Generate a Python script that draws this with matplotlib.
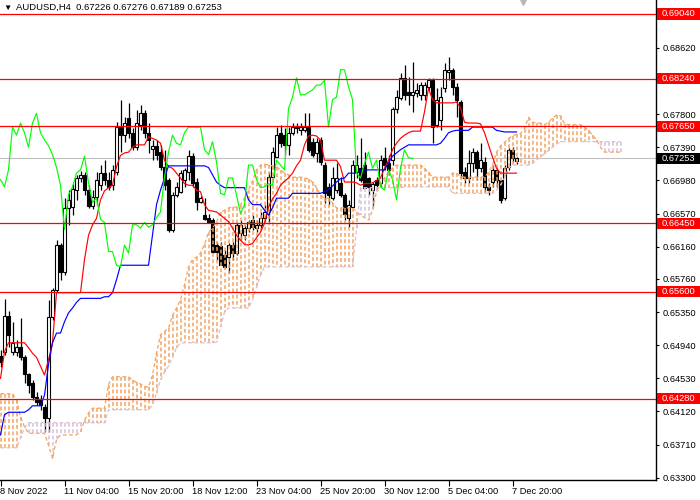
"""AUDUSD H4 chart in the MetaTrader look: candles, Ichimoku cloud and level lines."""

import matplotlib

matplotlib.use("Agg")
import matplotlib.pyplot as plt
from matplotlib.patches import Rectangle
from matplotlib.transforms import blended_transform_factory

SYMBOL_TITLE = "AUDUSD,H4  0.67226 0.67276 0.67189 0.67253"

# one entry per H4 bar, first bar = 8 Nov 2022 12:00
opens = [
    0.6481, 0.6486, 0.6530, 0.6486, 0.6486, 0.6492, 0.6479, 0.6458, 0.6447, 0.6430,
    0.6427, 0.6418, 0.6404, 0.6529, 0.6562, 0.6618, 0.6585, 0.6664, 0.6665, 0.6686,
    0.6701, 0.6705, 0.6686, 0.6666, 0.6677, 0.6692, 0.6707, 0.6699, 0.6692, 0.6708,
    0.6764, 0.6754, 0.6775, 0.6757, 0.6739, 0.6767, 0.6781, 0.6757, 0.6737, 0.6741,
    0.6733, 0.6714, 0.6699, 0.6637, 0.6680, 0.6684, 0.6699, 0.6708, 0.6728, 0.6696,
    0.6671, 0.6655, 0.6652, 0.6649, 0.6618, 0.6617, 0.6606, 0.6603, 0.6618, 0.6608,
    0.6633, 0.6630, 0.6639, 0.6649, 0.6639, 0.6643, 0.6651, 0.6661, 0.6702, 0.6727,
    0.6757, 0.6754, 0.6742, 0.6757, 0.6763, 0.6760, 0.6760, 0.6764, 0.6746, 0.6732,
    0.6748, 0.6717, 0.6690, 0.6676, 0.6686, 0.6695, 0.6680, 0.6652, 0.6665, 0.6708,
    0.6713, 0.6717, 0.6701, 0.6686, 0.6699, 0.6695, 0.6726, 0.6719, 0.6723, 0.6787,
    0.6800, 0.6825, 0.6807, 0.6804, 0.6806, 0.6804, 0.6804, 0.6814, 0.6822, 0.6767,
    0.6773, 0.6812, 0.6832, 0.6835, 0.6814, 0.6795, 0.6708, 0.6701, 0.6719, 0.6733,
    0.6713, 0.6721, 0.6690, 0.6696, 0.6711, 0.6699, 0.6676, 0.6715, 0.6736, 0.67226,
]
highs = [
    0.6488, 0.6551, 0.6536, 0.6523, 0.6500, 0.6528, 0.6482, 0.6460, 0.6451, 0.6436,
    0.6432, 0.6421, 0.6550, 0.6565, 0.6624, 0.6620, 0.6676, 0.6686, 0.6694, 0.6705,
    0.6710, 0.6708, 0.6692, 0.6686, 0.6708, 0.6717, 0.6723, 0.6708, 0.6717, 0.6770,
    0.6798, 0.6776, 0.6794, 0.6763, 0.6785, 0.6791, 0.6785, 0.6769, 0.6748, 0.6748,
    0.6742, 0.6736, 0.6701, 0.6684, 0.6696, 0.6711, 0.6713, 0.6736, 0.6732, 0.6701,
    0.6679, 0.6676, 0.6657, 0.6652, 0.6622, 0.6622, 0.6612, 0.6620, 0.6622, 0.6645,
    0.6649, 0.6643, 0.6649, 0.6655, 0.6649, 0.6659, 0.6668, 0.6708, 0.6739, 0.6764,
    0.6767, 0.6763, 0.6764, 0.6769, 0.6769, 0.6769, 0.6781, 0.6781, 0.6750, 0.6750,
    0.6752, 0.6721, 0.6695, 0.6715, 0.6719, 0.6702, 0.6682, 0.6674, 0.6723, 0.6730,
    0.6750, 0.6733, 0.6702, 0.6696, 0.6702, 0.6730, 0.6739, 0.6730, 0.6789, 0.6810,
    0.6831, 0.6841, 0.6826, 0.6845, 0.6819, 0.6820, 0.6820, 0.6825, 0.6825, 0.6812,
    0.6814, 0.6843, 0.6851, 0.6837, 0.6819, 0.6798, 0.6715, 0.6736, 0.6738, 0.6736,
    0.6744, 0.6727, 0.6695, 0.6717, 0.6713, 0.6699, 0.6717, 0.6738, 0.6739, 0.67276,
]
lows = [
    0.6467, 0.6482, 0.6492, 0.6482, 0.6481, 0.6476, 0.6447, 0.6435, 0.6426, 0.6420,
    0.6414, 0.6386, 0.6386, 0.6525, 0.6560, 0.6575, 0.6581, 0.6643, 0.6655, 0.6674,
    0.6696, 0.6680, 0.6664, 0.6662, 0.6668, 0.6686, 0.6692, 0.6686, 0.6686, 0.6705,
    0.6733, 0.6746, 0.6751, 0.6736, 0.6736, 0.6760, 0.6751, 0.6732, 0.6723, 0.6723,
    0.6711, 0.6686, 0.6634, 0.6634, 0.6677, 0.6682, 0.6690, 0.6699, 0.6690, 0.6661,
    0.6670, 0.6649, 0.6645, 0.6608, 0.6600, 0.6593, 0.6590, 0.6584, 0.6600, 0.6606,
    0.6624, 0.6624, 0.6634, 0.6637, 0.6634, 0.6639, 0.6646, 0.6645, 0.6701, 0.6727,
    0.6739, 0.6730, 0.6730, 0.6754, 0.6757, 0.6754, 0.6758, 0.6733, 0.6727, 0.6721,
    0.6717, 0.6670, 0.6668, 0.6674, 0.6682, 0.6677, 0.6649, 0.6640, 0.6664, 0.6701,
    0.6696, 0.6689, 0.6680, 0.6665, 0.6686, 0.6690, 0.6711, 0.6705, 0.6717, 0.6781,
    0.6798, 0.6798, 0.6791, 0.6783, 0.6801, 0.6798, 0.6798, 0.6810, 0.6744, 0.6764,
    0.6760, 0.6807, 0.6822, 0.6804, 0.6776, 0.6701, 0.6695, 0.6695, 0.6708, 0.6699,
    0.6708, 0.6684, 0.6680, 0.6690, 0.6690, 0.6670, 0.6674, 0.6711, 0.6721, 0.67189,
]
closes = [
    0.6473, 0.6530, 0.6507, 0.6497, 0.6492, 0.6479, 0.6458, 0.6445, 0.6430, 0.6424,
    0.6420, 0.6404, 0.6529, 0.6562, 0.6618, 0.6585, 0.6664, 0.6674, 0.6687, 0.6701,
    0.6705, 0.6686, 0.6666, 0.6677, 0.6699, 0.6707, 0.6699, 0.6690, 0.6711, 0.6764,
    0.6754, 0.6769, 0.6757, 0.6739, 0.6769, 0.6781, 0.6757, 0.6748, 0.6741, 0.6730,
    0.6714, 0.6692, 0.6637, 0.6680, 0.6690, 0.6707, 0.6711, 0.6728, 0.6695, 0.6671,
    0.6676, 0.6650, 0.6646, 0.6610, 0.6610, 0.6593, 0.6591, 0.6618, 0.6608, 0.6643,
    0.6643, 0.6639, 0.6646, 0.6640, 0.6643, 0.6652, 0.6659, 0.6702, 0.6733, 0.6754,
    0.6744, 0.6742, 0.6757, 0.6764, 0.6764, 0.6764, 0.6764, 0.6736, 0.6730, 0.6746,
    0.6721, 0.6682, 0.6680, 0.6701, 0.6701, 0.6680, 0.6657, 0.6668, 0.6717, 0.6717,
    0.6699, 0.6689, 0.6690, 0.6694, 0.6692, 0.6723, 0.6717, 0.6711, 0.6787, 0.6801,
    0.6825, 0.6804, 0.6804, 0.6807, 0.6810, 0.6816, 0.6816, 0.6822, 0.6764, 0.6798,
    0.6801, 0.6835, 0.6835, 0.6814, 0.6798, 0.6707, 0.6701, 0.6719, 0.6733, 0.6713,
    0.6723, 0.6690, 0.6686, 0.6711, 0.6699, 0.6674, 0.6713, 0.6736, 0.6726, 0.67253,
]

# Ichimoku lines as shown on the chart
tenkan = [
    0.6453, 0.6486, 0.6497, 0.6497, 0.6497, 0.6497, 0.6497, 0.6491, 0.6484, 0.6479,
    0.6468, 0.6457, 0.6476, 0.6497, 0.6559, 0.6559, 0.6559, 0.6559, 0.6559, 0.6559,
    0.6559, 0.6600, 0.6630, 0.6643, 0.6651, 0.6674, 0.6685, 0.6689, 0.6692, 0.6715,
    0.6729, 0.6732, 0.6733, 0.6739, 0.6742, 0.6742, 0.6742, 0.6752, 0.6750, 0.6748,
    0.6744, 0.6723, 0.6715, 0.6713, 0.6707, 0.6701, 0.6694, 0.6692, 0.6692, 0.6686,
    0.6684, 0.6668, 0.6661, 0.6660, 0.6659, 0.6655, 0.6651, 0.6647, 0.6639, 0.6630,
    0.6624, 0.6619, 0.6618, 0.6620, 0.6627, 0.6634, 0.6645, 0.6665, 0.6675, 0.6682,
    0.6692, 0.6697, 0.6701, 0.6707, 0.6716, 0.6723, 0.6742, 0.6753, 0.6754, 0.6753,
    0.6748, 0.6723, 0.6723, 0.6723, 0.6723, 0.6715, 0.6696, 0.6696, 0.6696, 0.6695,
    0.6692, 0.6694, 0.6694, 0.6695, 0.6698, 0.6701, 0.6713, 0.6723, 0.6736, 0.6744,
    0.6750, 0.6754, 0.6757, 0.6759, 0.6759, 0.6759, 0.6783, 0.6812, 0.6798, 0.6794,
    0.6794, 0.6794, 0.6794, 0.6794, 0.6795, 0.6788, 0.6770, 0.6769, 0.6769, 0.6769,
    0.6768, 0.6757, 0.6742, 0.6727, 0.6713, 0.6707, 0.6707, 0.6707, 0.6707, 0.6707,
]
kijun = [
    0.6383, 0.6408, 0.6411, 0.6411, 0.6411, 0.6411, 0.6411, 0.6414, 0.6419, 0.6419,
    0.6419, 0.6432, 0.6470, 0.6497, 0.6509, 0.6509, 0.6523, 0.6534, 0.6540, 0.6547,
    0.6552, 0.6552, 0.6552, 0.6552, 0.6552, 0.6552, 0.6554, 0.6554, 0.6559, 0.6575,
    0.6593, 0.6593, 0.6593, 0.6593, 0.6593, 0.6593, 0.6593, 0.6593, 0.6630, 0.6668,
    0.6686, 0.6701, 0.6716, 0.6716, 0.6716, 0.6716, 0.6716, 0.6716, 0.6716, 0.6716,
    0.6716, 0.6716, 0.6714, 0.6705, 0.6696, 0.6692, 0.6689, 0.6689, 0.6689, 0.6689,
    0.6689, 0.6689, 0.6674, 0.6668, 0.6668, 0.6668, 0.6661, 0.6655, 0.6664, 0.6676,
    0.6676, 0.6676, 0.6676, 0.6682, 0.6682, 0.6682, 0.6682, 0.6682, 0.6682, 0.6682,
    0.6682, 0.6684, 0.6687, 0.6691, 0.6696, 0.6700, 0.6701, 0.6707, 0.6707, 0.6707,
    0.6711, 0.6711, 0.6711, 0.6711, 0.6711, 0.6711, 0.6711, 0.6720, 0.6728, 0.6732,
    0.6736, 0.6739, 0.6742, 0.6742, 0.6742, 0.6742, 0.6742, 0.6742, 0.6742, 0.6742,
    0.6744, 0.6750, 0.6757, 0.6759, 0.6760, 0.6760, 0.6760, 0.6760, 0.6764, 0.6764,
    0.6764, 0.6764, 0.6764, 0.6764, 0.6760, 0.6759, 0.6758, 0.6758, 0.6758, 0.6758,
]
# senkou spans run 26 bars past the last candle
span_a = [
    0.6434, 0.6434, 0.6434, 0.6434, 0.6426, 0.6405, 0.6393, 0.6385, 0.6385, 0.6385,
    0.6385, 0.6385, 0.6370, 0.6354, 0.6377, 0.6383, 0.6383, 0.6383, 0.6383, 0.6383,
    0.6387, 0.6401, 0.6410, 0.6416, 0.6416, 0.6416, 0.6416, 0.6445, 0.6455, 0.6455,
    0.6455, 0.6455, 0.6455, 0.6451, 0.6448, 0.6446, 0.6443, 0.6442, 0.6457, 0.6484,
    0.6507, 0.6511, 0.6515, 0.6531, 0.6540, 0.6550, 0.6569, 0.6591, 0.6600, 0.6603,
    0.6608, 0.6619, 0.6634, 0.6639, 0.6646, 0.6659, 0.6661, 0.6664, 0.6665, 0.6665,
    0.6668, 0.6676, 0.6686, 0.6697, 0.6711, 0.6717, 0.6718, 0.6717, 0.6716, 0.6715,
    0.6711, 0.6707, 0.6705, 0.6702, 0.6702, 0.6702, 0.6701, 0.6700, 0.6696, 0.6689,
    0.6680, 0.6676, 0.6676, 0.6670, 0.6664, 0.6664, 0.6664, 0.6664, 0.6664, 0.6659,
    0.6655, 0.6652, 0.6649, 0.6661, 0.6684, 0.6695, 0.6701, 0.6708, 0.6713, 0.6717,
    0.6717, 0.6717, 0.6717, 0.6717, 0.6717, 0.6717, 0.6713, 0.6708, 0.6702, 0.6702,
    0.6702, 0.6702, 0.6702, 0.6707, 0.6707, 0.6703, 0.6702, 0.6702, 0.6702, 0.6702,
    0.6702, 0.6702, 0.6708, 0.6717, 0.6733, 0.6741, 0.6745, 0.6750, 0.6753, 0.6755,
    0.6756, 0.6762, 0.6776, 0.6770, 0.6769, 0.6769, 0.6767, 0.6770, 0.6775, 0.6779,
    0.6778, 0.6768, 0.6767, 0.6767, 0.6767, 0.6767, 0.6764, 0.6760, 0.6754, 0.6748,
    0.6739, 0.6733, 0.6733, 0.6733, 0.6733, 0.6733,
]
span_b = [
    0.6367, 0.6367, 0.6367, 0.6367, 0.6367, 0.6379, 0.6392, 0.6398, 0.6398, 0.6398,
    0.6398, 0.6398, 0.6398, 0.6398, 0.6398, 0.6398, 0.6398, 0.6398, 0.6398, 0.6398,
    0.6398, 0.6398, 0.6398, 0.6398, 0.6398, 0.6398, 0.6398, 0.6414, 0.6414, 0.6414,
    0.6414, 0.6414, 0.6414, 0.6414, 0.6414, 0.6414, 0.6414, 0.6414, 0.6420, 0.6435,
    0.6451, 0.6461, 0.6468, 0.6479, 0.6491, 0.6497, 0.6497, 0.6497, 0.6497, 0.6497,
    0.6497, 0.6497, 0.6497, 0.6497, 0.6498, 0.6516, 0.6535, 0.6540, 0.6540, 0.6540,
    0.6540, 0.6540, 0.6540, 0.6550, 0.6565, 0.6581, 0.6591, 0.6591, 0.6591, 0.6591,
    0.6591, 0.6591, 0.6591, 0.6591, 0.6591, 0.6591, 0.6591, 0.6591, 0.6591, 0.6591,
    0.6591, 0.6591, 0.6591, 0.6591, 0.6591, 0.6591, 0.6591, 0.6591, 0.6591, 0.6637,
    0.6689, 0.6689, 0.6689, 0.6689, 0.6689, 0.6689, 0.6689, 0.6689, 0.6689, 0.6689,
    0.6689, 0.6690, 0.6690, 0.6690, 0.6690, 0.6690, 0.6690, 0.6690, 0.6690, 0.6690,
    0.6690, 0.6690, 0.6690, 0.6682, 0.6682, 0.6682, 0.6682, 0.6682, 0.6682, 0.6682,
    0.6682, 0.6682, 0.6682, 0.6682, 0.6686, 0.6692, 0.6701, 0.6713, 0.6717, 0.6717,
    0.6717, 0.6717, 0.6717, 0.6719, 0.6723, 0.6727, 0.6731, 0.6735, 0.6739, 0.6743,
    0.6746, 0.6746, 0.6746, 0.6746, 0.6746, 0.6746, 0.6746, 0.6746, 0.6746, 0.6746,
    0.6746, 0.6746, 0.6746, 0.6746, 0.6746, 0.6746,
]

levels = [0.69040, 0.68240, 0.67650, 0.66450, 0.65600, 0.64280]
last_price = 0.67253

price_ticks = [0.68620, 0.67800, 0.67390, 0.66980, 0.66570, 0.66160, 0.65760,
               0.65350, 0.64940, 0.64530, 0.64120, 0.63710, 0.63300]
time_tick_bars = [0, 16, 32, 48, 64, 80, 96, 112, 128]
time_tick_labels = ["8 Nov 2022", "11 Nov 04:00", "15 Nov 20:00", "18 Nov 12:00",
                    "23 Nov 04:00", "25 Nov 20:00", "30 Nov 12:00", "5 Dec 04:00",
                    "7 Dec 20:00"]

CHIKOU_SHIFT = 26
FONT_SIZE = 6.7
SPAN_A_COLOR = "#F4A460"
SPAN_B_COLOR = "#D8BFD8"
DOT = (0, (3, 2))


def draw_cloud(ax):
    # one dotted column per bar, coloured by whichever span is on top
    for i, (a, b) in enumerate(zip(span_a, span_b)):
        color = SPAN_A_COLOR if a >= b else SPAN_B_COLOR
        ax.plot([i, i], [max(a, b), min(a, b)], color=color, linestyle=(0, (2.5, 1.6)),
                linewidth=1.1, solid_capstyle="butt", dash_capstyle="butt", zorder=3)
    idx = list(range(len(span_a)))
    for vals, color in ((span_a, SPAN_A_COLOR), (span_b, SPAN_B_COLOR)):
        ax.plot(idx, vals, color=color, linestyle=DOT, linewidth=0.9, zorder=3)


def draw_candles(ax):
    idx = list(range(len(closes)))
    ax.vlines(idx, lows, highs, color="black", linewidth=0.9, zorder=2)
    bottoms = [min(o, c) for o, c in zip(opens, closes)]
    heights = [max(abs(c - o), 0.00003) for o, c in zip(opens, closes)]
    faces = ["white" if c >= o else "black" for o, c in zip(opens, closes)]
    ax.bar(idx, heights, bottom=bottoms, width=0.6, color=faces,
           edgecolor="black", linewidth=0.8, zorder=2.1)


def price_label(ax, price, text, face):
    trans = blended_transform_factory(ax.transAxes, ax.transData)
    half = 5.6 / 8078
    ax.add_patch(Rectangle((1 + 1 / 656, price - half), 44 / 656, 2 * half,
                           transform=trans, facecolor=face, edgecolor="none",
                           clip_on=False, zorder=6))
    ax.text(1 + 6 / 656, price, text, transform=trans, color="white",
            fontsize=FONT_SIZE, va="center", ha="left", clip_on=False, zorder=7)


def main():
    plt.rcParams["font.family"] = ["Liberation Sans", "DejaVu Sans"]
    fig = plt.figure(figsize=(7, 5), dpi=100, facecolor="white")
    ax = fig.add_axes([0, 0.04, 656 / 700, 0.96])

    draw_candles(ax)
    draw_cloud(ax)

    ax.plot(range(len(tenkan)), tenkan, color="#FF0000", linewidth=0.85, zorder=4)
    ax.plot(range(len(kijun)), kijun, color="#0000FF", linewidth=0.85, zorder=4)
    chikou = closes[CHIKOU_SHIFT:]
    ax.plot(range(len(chikou)), chikou, color="#00FF00", linewidth=0.85, zorder=4)

    ax.axhline(last_price, color="#C0C0C0", linewidth=0.8, zorder=1)
    for lvl in levels:
        ax.axhline(lvl, color="#FF0000", linewidth=0.9, zorder=5)

    # chart shift marker
    ax.plot([130.6], [1.0], marker="v", markersize=7, color="#B8B8B8",
            transform=blended_transform_factory(ax.transData, ax.transAxes), zorder=6)

    ax.set_xlim(-0.125, 163.875)
    ax.set_ylim(0.632715, 0.692133)

    for side in ("top", "left"):
        ax.spines[side].set_visible(False)
    for side in ("right", "bottom"):
        ax.spines[side].set_linewidth(1.0)
        ax.spines[side].set_color("black")

    ax.yaxis.tick_right()
    ax.set_yticks(price_ticks)
    ax.set_yticklabels([f"{p:.5f}" for p in price_ticks])
    ax.tick_params(axis="y", direction="out", length=2, pad=3, labelsize=FONT_SIZE,
                   width=0.8, colors="black")
    ax.set_xticks(time_tick_bars)
    ax.set_xticklabels(time_tick_labels, ha="left")
    ax.tick_params(axis="x", direction="out", length=4, pad=1, labelsize=FONT_SIZE,
                   width=0.8, colors="black")

    for lvl in levels:
        price_label(ax, lvl, f"{lvl:.5f}", "#FF0000")
    price_label(ax, last_price, f"{last_price:.5f}", "black")

    fig.text(3 / 700, 1 - 8 / 500, "\u25bc", fontsize=6, va="center", ha="left")
    fig.text(16 / 700, 1 - 7.5 / 500, SYMBOL_TITLE, fontsize=6.8,
             va="center", ha="left")

    fig.savefig("out.png", dpi=100, facecolor="white")
    plt.close(fig)


if __name__ == "__main__":
    main()
